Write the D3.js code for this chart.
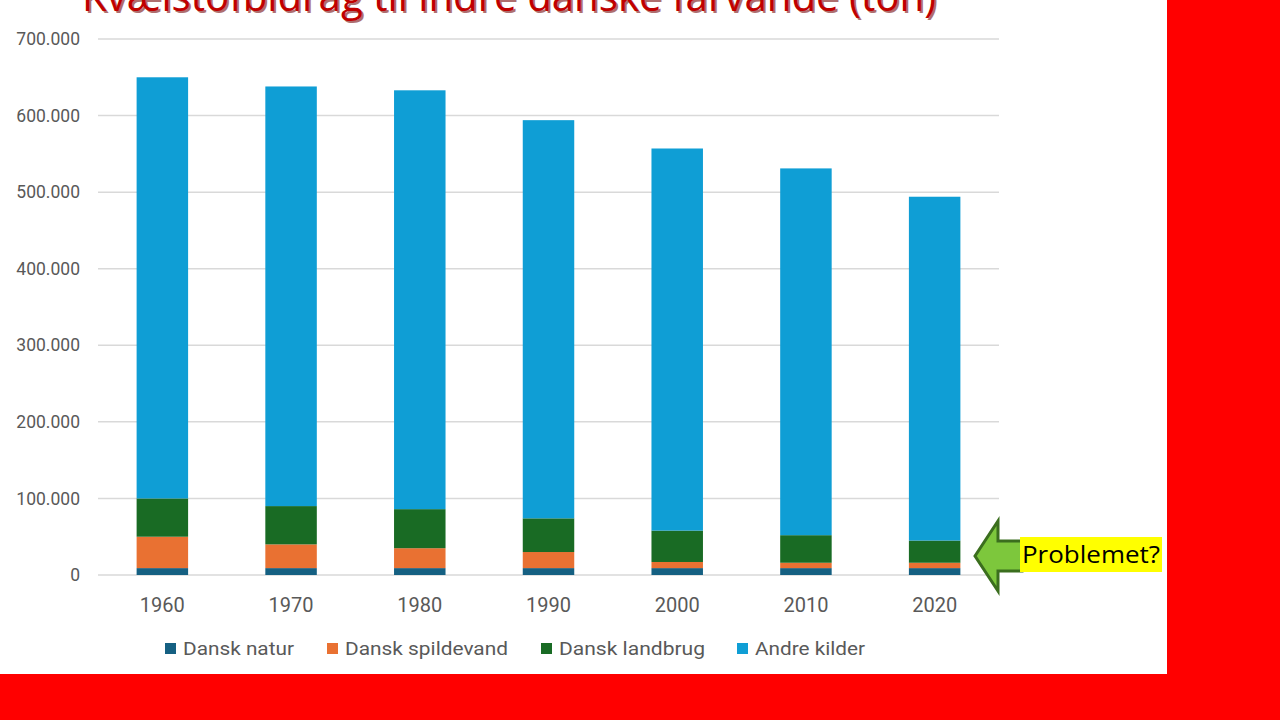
<!DOCTYPE html>
<html><head><meta charset="utf-8">
<script src="https://cdn.jsdelivr.net/npm/d3@7"></script>
<style>html,body{margin:0;padding:0;background:#fff;}svg{display:block;}</style>
</head><body>
<svg id="c" width="1280" height="720"></svg>
<script>
const years = ["1960","1970","1980","1990","2000","2010","2020"];
const seriesNames = ["Dansk natur","Dansk spildevand","Dansk landbrug","Andre kilder"];
const danskNatur     = [9000, 9000, 9000, 9000, 9000, 9000, 9000];
const danskSpildevand= [41000, 31000, 26000, 21000, 8000, 7000, 7000];
const danskLandbrug  = [50000, 50000, 51000, 44000, 41000, 36000, 29000];
const andreKilder    = [550000, 548000, 547000, 520000, 499000, 479000, 449000];
const yTicks = [0,100000,200000,300000,400000,500000,600000,700000];
const colors = ["#156082","#E97132","#196B24","#0F9ED5"];
const title = "Kvælstofbidrag til indre danske farvande (ton)";
const note = "Problemet?";

const svg = d3.select("#c");
svg.append("rect").attr("x",0).attr("y",0).attr("width",1280).attr("height",720).attr("fill","#ff0000");
svg.append("rect").attr("x",0).attr("y",0).attr("width",1167).attr("height",674).attr("fill","#ffffff");

const rows = years.map((y,i)=>({year:y,"Dansk natur":danskNatur[i],"Dansk spildevand":danskSpildevand[i],"Dansk landbrug":danskLandbrug[i],"Andre kilder":andreKilder[i]}));
const stack = d3.stack().keys(seriesNames)(rows);

const x = d3.scaleBand().domain(years).range([98,999]).paddingInner(0.6).paddingOuter(0.3);
const y = d3.scaleLinear().domain([0,700000]).range([575,39]);
const fmt = v => d3.format(",")(v).replace(/,/g,".");

svg.append("g").selectAll("line").data(yTicks).join("line")
  .attr("x1",98).attr("x2",999).attr("y1",d=>y(d)).attr("y2",d=>y(d))
  .attr("stroke","#d9d9d9").attr("stroke-width",1.5);

const yAxis = d3.axisLeft(y).tickValues(yTicks).tickFormat(fmt).tickSize(0).tickPadding(0);
const ga = svg.append("g").attr("transform","translate(80,0)").call(yAxis);
ga.select(".domain").remove();
ga.selectAll("text").attr("font-family","Roboto, 'Open Sans', sans-serif").attr("font-size",17.5).attr("fill","#595959");

svg.append("g").selectAll("g").data(stack).join("g").attr("fill",(d,i)=>colors[i])
  .selectAll("rect").data(d=>d).join("rect")
  .attr("x",d=>x(d.data.year)).attr("width",x.bandwidth())
  .attr("y",d=>y(d[1])).attr("height",d=>y(d[0])-y(d[1]));

const xAxis = d3.axisBottom(x).tickSize(0).tickPadding(0);
const gx = svg.append("g").attr("transform","translate(0,605)").call(xAxis);
gx.select(".domain").remove();
gx.selectAll("text").attr("font-family","Roboto, 'Open Sans', sans-serif").attr("font-size",20).attr("fill","#595959").attr("dy","0.35em");

const legX = [165,327,541,737];
const legW = [111,163,146,110];
const lg = svg.append("g").selectAll("g").data(seriesNames).join("g")
  .attr("transform",(d,i)=>`translate(${legX[i]},648)`);
lg.append("rect").attr("x",0).attr("y",-5).attr("width",11).attr("height",11).attr("fill",(d,i)=>colors[i]);
lg.append("text").attr("x",18).attr("y",0).attr("dy","0.35em").text(d=>d)
  .attr("textLength",(d,i)=>legW[i]).attr("lengthAdjust","spacingAndGlyphs")
  .attr("font-family","Roboto, 'Open Sans', sans-serif").attr("font-size",19).attr("fill","#595959");

svg.append("text").attr("x",82).attr("y",11).text(title)
  .attr("font-family","'Open Sans', sans-serif").attr("font-size",42)
  .attr("textLength",854).attr("lengthAdjust","spacingAndGlyphs")
  .attr("fill","#7a1010").attr("opacity",0.6).attr("transform","translate(2,2)");
svg.append("text").attr("x",82).attr("y",11).text(title)
  .attr("font-family","'Open Sans', sans-serif").attr("font-size",42)
  .attr("textLength",854).attr("lengthAdjust","spacingAndGlyphs")
  .attr("fill","#c00000");

svg.append("path")
  .attr("d","M975,556 L998,521 L998,541 L1022,541 L1022,571 L998,571 L998,591 Z")
  .attr("fill","#7DC73C").attr("stroke","#3B6E1E").attr("stroke-width",3).attr("stroke-linejoin","miter");
svg.append("rect").attr("x",1020).attr("y",537).attr("width",142).attr("height",35).attr("fill","#ffff00");
svg.append("text").attr("x",1022).attr("y",555).attr("dy","0.35em").text(note)
  .attr("font-family","'Open Sans', sans-serif").attr("font-size",23).attr("fill","#000")
  .attr("textLength",138).attr("lengthAdjust","spacingAndGlyphs");
</script>
</body></html>
